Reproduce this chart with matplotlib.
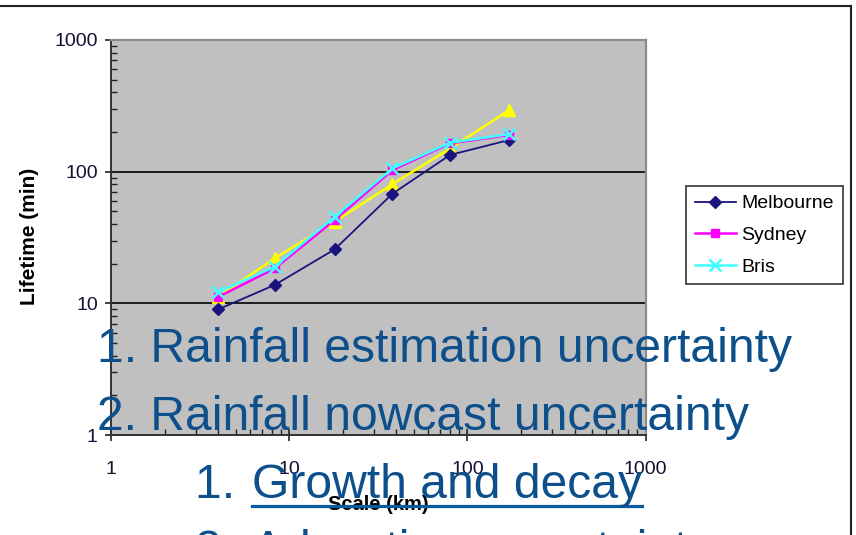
import matplotlib
matplotlib.use('Agg')
import matplotlib.pyplot as plt
from matplotlib.lines import Line2D
from matplotlib.ticker import LogLocator, NullFormatter, FixedLocator
import numpy as np

plt.rcParams['font.family'] = ['Liberation Sans', 'DejaVu Sans']

# cell scale (km) vs lifetime (min)
scale_km = [4, 8.3, 18, 38, 80, 172]
melbourne = [9.0, 13.8, 25.7, 68, 134, 174]
sydney = [11.2, 18.4, 43, 103, 164, 190]
bris = [12.2, 19.0, 45.5, 106, 166, 193]
yellow_series = [11.2, 22, 41.7, 80.5, 150, 294]

tick_vals = [1, 10, 100, 1000]
tick_labels = ['1', '10', '100', '1000']

bullets = ['1. Rainfall estimation uncertainty',
           '2. Rainfall nowcast uncertainty']
sub_num = ['1. ', '2. ']
sub_items = ['Growth and decay', 'Advection uncertainty']

W, H = 856, 535
fig = plt.figure(figsize=(W / 100, H / 100), dpi=100)

def fx(px):
    return px / W

def fy(py):
    return 1 - py / H

ax = fig.add_axes([fx(111), fy(435), fx(645.5) - fx(111), fy(40) - fy(435)])
ax.set_facecolor('#c0c0c0')
ax.set_xscale('log')
ax.set_yscale('log')
ax.set_xlim(1, 1000)
ax.set_ylim(1, 1000)

ax.plot(scale_km, melbourne, color='#1a1480', marker='D', ms=6.5, lw=1.3, label='Melbourne', zorder=3)
ax.plot(scale_km, sydney, color='#ff00ff', marker='s', ms=6, lw=1.8, label='Sydney', zorder=4)
ax.plot(scale_km, bris, color='#40ffff', marker='x', ms=8, mew=1.8, lw=1.8, label='Bris', zorder=5)
ax.plot(scale_km, yellow_series, color='#ffff00', marker='^', ms=9, lw=1.8, zorder=2)

ax.yaxis.set_major_locator(FixedLocator(tick_vals))
ax.xaxis.set_major_locator(FixedLocator(tick_vals))
ax.set_xticklabels(tick_labels)
ax.set_yticklabels(tick_labels)
ax.xaxis.set_minor_locator(LogLocator(base=10, subs=np.arange(2, 10)))
ax.yaxis.set_minor_locator(LogLocator(base=10, subs=np.arange(2, 10)))
ax.xaxis.set_minor_formatter(NullFormatter())
ax.yaxis.set_minor_formatter(NullFormatter())

ax.tick_params(which='major', direction='inout', length=9, width=1.2, color='#222222',
               labelsize=14, labelcolor='#111133')
ax.tick_params(which='minor', direction='in', length=4.5, width=1.0, color='#222222')
ax.tick_params(axis='x', which='major', pad=14)
ax.tick_params(axis='y', which='major', pad=5)

ax.yaxis.grid(True, which='major', color='black', lw=1.2)
ax.set_axisbelow(True)

for side in ['top', 'right']:
    ax.spines[side].set_color('#8c8c8c')
    ax.spines[side].set_linewidth(1.6)
for side in ['left', 'bottom']:
    ax.spines[side].set_color('#333333')
    ax.spines[side].set_linewidth(1.4)

fig.text(fx(30), fy(236), 'Lifetime (min)', rotation=90, ha='center', va='center',
         fontsize=15, fontweight='bold')
fig.text(fx(378), fy(505), 'Scale (km)', ha='center', va='center',
         fontsize=14.5, fontweight='bold')

leg = ax.legend(loc='upper left', bbox_to_anchor=(fx(686), fy(186)),
                bbox_transform=fig.transFigure, borderaxespad=0, fancybox=False,
                fontsize=14, handlelength=2.1, labelspacing=0.72, borderpad=0.45,
                handletextpad=0.3)
leg.get_frame().set_edgecolor('black')
leg.get_frame().set_linewidth(1.2)

# outer chart frame
fig.add_artist(Line2D([0, fx(851)], [fy(6), fy(6)], color='#222222', lw=1.5))
fig.add_artist(Line2D([fx(851), fx(851)], [fy(6), 0], color='#222222', lw=1.5))

# slide bullet text on top
blue = '#0d4f8b'
fs = 34.6
fig.text(fx(97), fy(362), bullets[0], fontsize=fs, color=blue, va='baseline', zorder=10)
fig.text(fx(97), fy(430), bullets[1], fontsize=fs, color=blue, va='baseline', zorder=10)

fig.text(fx(195), fy(498), sub_num[0], fontsize=fs, color=blue, va='baseline', zorder=10)
item = fig.text(fx(252), fy(498), sub_items[0], fontsize=fs, color=blue, va='baseline', zorder=10)
fig.text(fx(195), fy(564), sub_num[1], fontsize=fs, color=blue, va='baseline', zorder=10)
fig.text(fx(252), fy(564), sub_items[1], fontsize=fs, color=blue, va='baseline', zorder=10)

fig.canvas.draw()
bb = item.get_window_extent()
fig.add_artist(Line2D([bb.x0 / W, bb.x1 / W], [fy(506), fy(506)], color='#0a5aa0', lw=2.3, zorder=10))

fig.savefig('out.png', dpi=100)
